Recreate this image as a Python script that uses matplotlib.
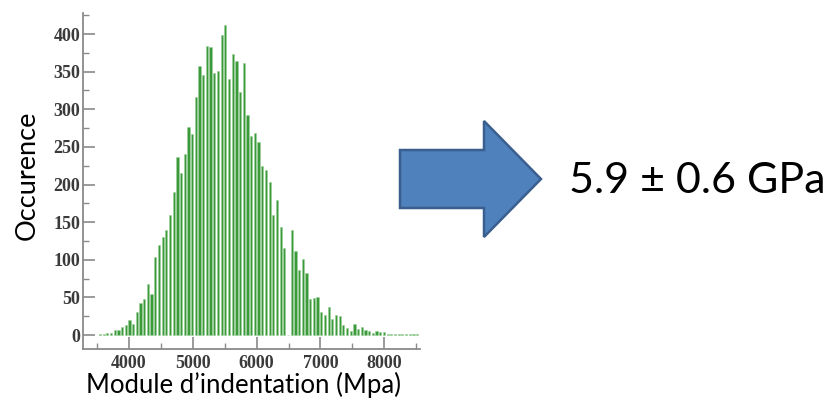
import numpy as np
import matplotlib
matplotlib.use('Agg')
import matplotlib.pyplot as plt
from matplotlib.patches import Polygon
from matplotlib.ticker import MultipleLocator

# histogramme du module d'indentation (classes de ~58 MPa)
bin_start = 3545
bin_width = 57.8
occurence = [2, 2, 3, 3, 6, 7, 11, 13, 20, 15,
             31, 42, 48, 68, 55, 104, 120, 130, 139, 160,
             190, 236, 215, 241, 276, 267, 317, 357, 345, 384,
             383, 348, 351, 399, 412, 340, 374, 364, 323, 362,
             292, 265, 269, 257, 225, 219, 203, 160, 179, 144,
             115, 0, 139, 111, 87, 101, 83, 48, 49, 51,
             30, 26, 37, 21, 27, 25, 13, 9, 5, 15,
             8, 10, 7, 5, 3, 5, 4, 4, 2, 1,
             2, 1, 1, 2, 1, 1, 1, 1]
module = bin_start + bin_width * np.arange(len(occurence))

resultat = '5.9 ± 0.6 GPa'

W, H = 832, 404
fig = plt.figure(figsize=(W / 100, H / 100), dpi=100)
ax = fig.add_axes([83 / W, 1 - 349 / H, (420 - 83) / W, (349 - 13) / H])

ax.bar(module, occurence, width=bin_width * 0.6, color='#3a9a3a',
       edgecolor='#9dd19d', linewidth=0.4)

ax.set_xlim(3279, 8561)
ax.set_ylim(-18.6, 428)

for s in ['top', 'right']:
    ax.spines[s].set_visible(False)
for s in ['left', 'bottom']:
    ax.spines[s].set_color('#8a8a8a')
    ax.spines[s].set_linewidth(1.3)

ax.xaxis.set_major_locator(MultipleLocator(1000))
ax.xaxis.set_minor_locator(MultipleLocator(500))
ax.yaxis.set_major_locator(MultipleLocator(50))
ax.yaxis.set_minor_locator(MultipleLocator(25))
ax.tick_params(which='major', direction='in', length=8.5, width=1.2,
               color='#8a8a8a', labelsize=13, labelcolor='#3a3a3a')
ax.tick_params(which='minor', direction='in', length=4.5, width=1.0,
               color='#8a8a8a')
ax.tick_params(axis='y', pad=2)
ax.tick_params(axis='x', pad=4)
for lab in ax.get_xticklabels() + ax.get_yticklabels():
    lab.set_family('Liberation Serif')
    lab.set_weight('bold')

fig.text(27 / W, 1 - 175 / H, 'Occurence', rotation=90, ha='center',
         va='center', family='Lato', fontsize=19.5)
fig.text(243 / W, 1 - 385 / H, 'Module d\u2019indentation (Mpa)', ha='center',
         va='center', family='Lato', fontsize=18.5)

# flèche
pts = [(400, 150), (484, 150), (484, 121), (541, 179), (484, 237),
       (484, 208), (400, 208)]
arrow = Polygon([(x / W, 1 - y / H) for x, y in pts], closed=True,
                transform=fig.transFigure, facecolor='#4f81bd',
                edgecolor='#3a5f8e', linewidth=1.8, joinstyle='miter')
fig.add_artist(arrow)

fig.text(569 / W, 1 - 181 / H, resultat, ha='left', va='center',
         family='Lato', fontsize=31)

fig.savefig('out.png', dpi=100)
